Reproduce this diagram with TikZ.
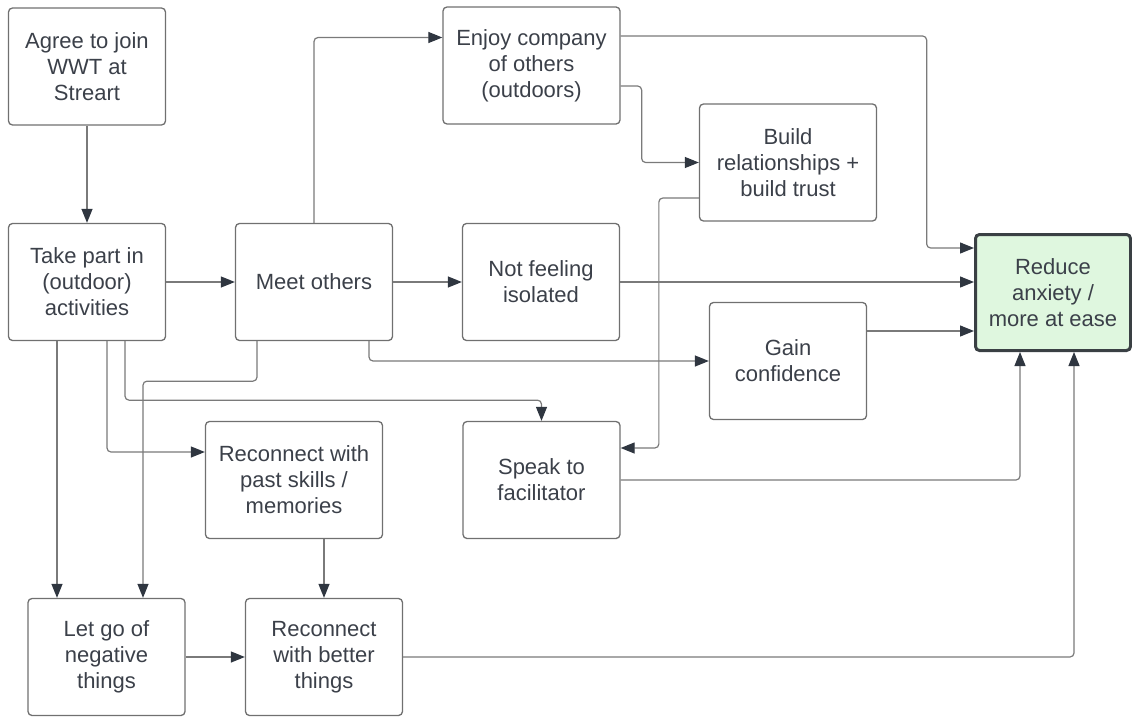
\documentclass[tikz,border=0pt]{standalone}
\usepackage{fontspec}
\setmainfont{Liberation Sans}
\usetikzlibrary{arrows.meta}
\definecolor{boxline}{HTML}{707070}
\definecolor{txt}{HTML}{3B4049}
\definecolor{linegray}{HTML}{7A7A7A}
\definecolor{tipdark}{HTML}{2F3640}
\definecolor{easefill}{HTML}{DFF7DF}
\definecolor{easeline}{HTML}{3A4044}
\begin{document}
\begin{tikzpicture}[x=1pt, y=-1pt,
		box/.style={draw=boxline, line width=1.3pt, rounded corners=4pt, align=center, text=txt,
			font=\fontsize{22}{26}\selectfont, minimum width=157pt, minimum height=117pt, inner sep=0pt},
		widebox/.style={box, minimum width=177pt},
		goal/.style={box, draw=easeline, fill=easefill, line width=3pt, minimum width=155pt, minimum height=116pt},
		arr/.style={draw=linegray, line width=1.2pt, rounded corners=4pt, -{Triangle[length=14pt, width=11pt, color=tipdark]}}]
		\useasboundingbox (0,0) rectangle (1132,717);
		% Schritte
		\node[box] (agree) at (87,66.5) {Agree to join\\WWT at\\Streart};
		\node[box] (take) at (87,282) {Take part in\\(outdoor)\\activities};
		\node[box] (meet) at (314,282) {Meet others};
		\node[widebox] (enjoy) at (531.5,65.5) {Enjoy company\\of others\\(outdoors)};
		\node[widebox] (build) at (788,162.5) {Build\\relationships +\\build trust};
		\node[box] (isolated) at (541,282) {Not feeling\\isolated};
		\node[box] (gain) at (788,361) {Gain\\confidence};
		\node[box] (speak) at (541.5,480) {Speak to\\facilitator};
		\node[widebox] (past) at (294,480) {Reconnect with\\past skills /\\memories};
		\node[box] (letgo) at (106.5,657) {Let go of\\negative\\things};
		\node[box] (better) at (324,657) {Reconnect\\with better\\things};
		\node[goal] (reduce) at (1053,292.5) {Reduce\\anxiety /\\more at ease};
		% Gerade Pfeile
		\foreach \a/\b in {agree/take, take/meet, meet/isolated, letgo/better} {
			\draw[arr] (\a) -- (\b);
		}
		\draw[arr] (isolated.east) -- (isolated.east -| reduce.west);
		\draw[arr] ([yshift=30pt]gain.east) -- ([yshift=30pt]gain.east -| reduce.west);
		\draw[arr] ([xshift=30pt]past.south) -- (better.north);
		\draw[arr] ([xshift=-30pt]take.south) -- ([xshift=-30pt]take.south |- letgo.north);
		% Pfeile mit Ecken
		\draw[arr] (meet.north) |- ([yshift=28pt]enjoy.west);
		\draw[arr] ([yshift=29.5pt]enjoy.east) -- ++(306,0) |- ([yshift=44.5pt]reduce.west);
		\draw[arr] ([yshift=-20.5pt]enjoy.east) -- ++(21,0) |- (build.west);
		\draw[arr] ([yshift=-35.5pt]build.west) -- ++(-40,0) |- ([yshift=32pt]speak.east);
		\draw[arr] ([xshift=55pt]meet.south) |- (gain.west);
		\draw[arr] ([xshift=38pt]take.south) -- ++(0,59) -| (speak.north);
		\draw[arr] ([xshift=20pt]take.south) |- ([yshift=28pt]past.west);
		\draw[arr] ([xshift=-57pt]meet.south) -- ++(0,40) -| ([xshift=36.5pt]letgo.north);
		\draw[arr] (speak.east) -| ([xshift=-33pt]reduce.south);
		\draw[arr] (better.east) -| ([xshift=21pt]reduce.south);
	\end{tikzpicture}
\end{document}
